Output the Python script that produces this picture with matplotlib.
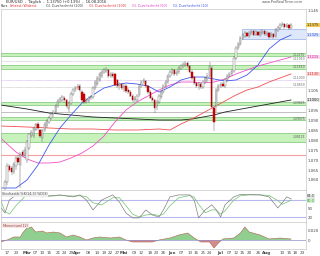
import matplotlib
matplotlib.use("Agg")
import matplotlib.pyplot as plt
import matplotlib.transforms as mtransforms
import numpy as np
from matplotlib.patches import Rectangle

plt.rcParams["font.family"] = "DejaVu Sans"
plt.rcParams["font.size"] = 3.2
plt.rcParams["axes.linewidth"] = 0.4

# daily candles (trading days 16.02. - 16.08.)
open_ = [
    1.0560, 1.0590, 1.0670, 1.0660, 1.0640, 1.0670, 1.0710, 1.0675, 1.0740, 1.0725,
    1.0700, 1.0760, 1.0820, 1.0820, 1.0850, 1.0880, 1.0850, 1.0810, 1.0850, 1.0870,
    1.0890, 1.0910, 1.0930, 1.0940, 1.0970, 1.0995, 1.1000, 1.1010, 1.1000, 1.0955,
    1.0985, 1.1030, 1.1050, 1.1060, 1.1070, 1.1040, 1.1030, 1.0990, 1.0995, 1.1010,
    1.1015, 1.1060, 1.1080, 1.1100, 1.1120, 1.1140, 1.1145, 1.1150, 1.1120, 1.1130,
    1.1130, 1.1100, 1.1070, 1.1080, 1.1060, 1.1070, 1.1050, 1.1040, 1.1020, 1.1000,
    1.1000, 1.1025, 1.1070, 1.1090, 1.1095, 1.1070, 1.1040, 1.1010, 1.1000, 1.0965,
    1.0990, 1.1015, 1.1040, 1.1070, 1.1090, 1.1120, 1.1135, 1.1150, 1.1130, 1.1140,
    1.1160, 1.1170, 1.1175, 1.1185, 1.1170, 1.1140, 1.1115, 1.1085, 1.1070, 1.1080,
    1.1065, 1.1090, 1.1105, 1.1120, 1.1160, 1.0960, 1.0970, 1.1050, 1.1070, 1.1080,
    1.1070, 1.1100, 1.1120, 1.1130, 1.1145, 1.1210, 1.1260, 1.1280, 1.1310, 1.1320,
    1.1335, 1.1320, 1.1335, 1.1345, 1.1330, 1.1340, 1.1325, 1.1335, 1.1345, 1.1330,
    1.1335, 1.1320, 1.1330, 1.1320, 1.1350, 1.1360, 1.1375, 1.1380, 1.1365, 1.1375,
    1.1360,
]
high = [
    1.0600, 1.0685, 1.0680, 1.0670, 1.0690, 1.0720, 1.0725, 1.0740, 1.0750, 1.0765,
    1.0800, 1.0835, 1.0850, 1.0865, 1.0885, 1.0890, 1.0855, 1.0855, 1.0890, 1.0905,
    1.0920, 1.0940, 1.0950, 1.0980, 1.1005, 1.1015, 1.1025, 1.1020, 1.1005, 1.0995,
    1.1040, 1.1060, 1.1070, 1.1080, 1.1080, 1.1050, 1.1040, 1.1010, 1.1020, 1.1025,
    1.1070, 1.1100, 1.1120, 1.1140, 1.1150, 1.1160, 1.1165, 1.1155, 1.1140, 1.1140,
    1.1135, 1.1105, 1.1090, 1.1085, 1.1080, 1.1080, 1.1060, 1.1050, 1.1030, 1.1020,
    1.1030, 1.1080, 1.1100, 1.1110, 1.1100, 1.1075, 1.1050, 1.1020, 1.1005, 1.1000,
    1.1030, 1.1050, 1.1080, 1.1100, 1.1130, 1.1150, 1.1160, 1.1155, 1.1150, 1.1170,
    1.1180, 1.1190, 1.1195, 1.1190, 1.1175, 1.1150, 1.1120, 1.1090, 1.1090, 1.1085,
    1.1100, 1.1120, 1.1135, 1.1190, 1.1170, 1.0970, 1.1060, 1.1080, 1.1090, 1.1090,
    1.1110, 1.1130, 1.1140, 1.1155, 1.1220, 1.1270, 1.1290, 1.1320, 1.1335, 1.1345,
    1.1340, 1.1345, 1.1350, 1.1350, 1.1350, 1.1345, 1.1350, 1.1355, 1.1350, 1.1345,
    1.1340, 1.1340, 1.1335, 1.1360, 1.1370, 1.1385, 1.1390, 1.1385, 1.1385, 1.1380,
    1.1385,
]
low = [
    1.0550, 1.0575, 1.0640, 1.0625, 1.0630, 1.0650, 1.0675, 1.0560, 1.0715, 1.0710,
    1.0685, 1.0750, 1.0810, 1.0810, 1.0845, 1.0850, 1.0810, 1.0790, 1.0840, 1.0860,
    1.0880, 1.0900, 1.0915, 1.0930, 1.0960, 1.0985, 1.0990, 1.0985, 1.0960, 1.0940,
    1.0975, 1.1020, 1.1040, 1.1050, 1.1040, 1.0990, 1.0980, 1.0980, 1.0985, 1.1000,
    1.1005, 1.1050, 1.1070, 1.1090, 1.1110, 1.1130, 1.1135, 1.1110, 1.1110, 1.1110,
    1.1070, 1.1060, 1.1050, 1.1050, 1.1040, 1.1035, 1.1030, 1.1015, 1.0990, 1.0990,
    1.0990, 1.1015, 1.1060, 1.1080, 1.1060, 1.1030, 1.1005, 1.0990, 1.0935, 1.0950,
    1.0980, 1.1005, 1.1030, 1.1060, 1.1080, 1.1110, 1.1125, 1.1120, 1.1120, 1.1130,
    1.1150, 1.1160, 1.1165, 1.1160, 1.1135, 1.1100, 1.1075, 1.1060, 1.1050, 1.1055,
    1.1055, 1.1080, 1.1090, 1.1110, 1.0960, 1.0845, 1.0940, 1.1040, 1.1060, 1.1065,
    1.1060, 1.1090, 1.1110, 1.1120, 1.1135, 1.1200, 1.1250, 1.1270, 1.1300, 1.1310,
    1.1315, 1.1310, 1.1325, 1.1320, 1.1320, 1.1320, 1.1315, 1.1325, 1.1320, 1.1320,
    1.1305, 1.1310, 1.1305, 1.1310, 1.1340, 1.1350, 1.1365, 1.1355, 1.1360, 1.1350,
    1.1355,
]
close = [
    1.0590, 1.0670, 1.0650, 1.0640, 1.0680, 1.0710, 1.0690, 1.0725, 1.0725, 1.0750,
    1.0790, 1.0830, 1.0840, 1.0860, 1.0880, 1.0860, 1.0820, 1.0850, 1.0880, 1.0895,
    1.0910, 1.0930, 1.0940, 1.0970, 1.0995, 1.1005, 1.1015, 1.1000, 1.0970, 1.0985,
    1.1030, 1.1050, 1.1060, 1.1070, 1.1050, 1.1000, 1.0990, 1.1000, 1.1010, 1.1015,
    1.1060, 1.1090, 1.1110, 1.1130, 1.1140, 1.1150, 1.1155, 1.1120, 1.1130, 1.1120,
    1.1075, 1.1070, 1.1080, 1.1060, 1.1070, 1.1045, 1.1040, 1.1020, 1.1000, 1.1010,
    1.1020, 1.1070, 1.1090, 1.1100, 1.1070, 1.1040, 1.1010, 1.1000, 1.0960, 1.0990,
    1.1020, 1.1040, 1.1070, 1.1090, 1.1120, 1.1140, 1.1150, 1.1130, 1.1140, 1.1160,
    1.1170, 1.1180, 1.1185, 1.1170, 1.1140, 1.1110, 1.1085, 1.1070, 1.1080, 1.1065,
    1.1090, 1.1110, 1.1120, 1.1170, 1.0965, 1.0890, 1.1050, 1.1070, 1.1080, 1.1070,
    1.1100, 1.1120, 1.1130, 1.1145, 1.1210, 1.1260, 1.1280, 1.1310, 1.1325, 1.1335,
    1.1320, 1.1335, 1.1345, 1.1325, 1.1340, 1.1325, 1.1340, 1.1345, 1.1330, 1.1335,
    1.1315, 1.1330, 1.1315, 1.1350, 1.1360, 1.1375, 1.1380, 1.1365, 1.1375, 1.1360,
    1.1375,
]

ma_short_idx = [-2, 5, 10, 15, 20, 25, 30, 35, 40, 45, 50, 55, 60, 65,
                70, 75, 80, 85, 90, 95, 100, 105, 110, 115, 120, 125, 130]
ma20 = [1.0560, 1.0560, 1.0600, 1.0675, 1.0775, 1.0860, 1.0925, 1.0985, 1.1025,
        1.1060, 1.1075, 1.1085, 1.1080, 1.1070, 1.1040, 1.1065, 1.1100, 1.1115,
        1.1115, 1.1105, 1.1095, 1.1100, 1.1125, 1.1175, 1.1255, 1.1300, 1.1325]
ma50 = [1.0810, 1.0740, 1.0705, 1.0685, 1.0685, 1.0690, 1.0710, 1.0735, 1.0770,
        1.0820, 1.0890, 1.0950, 1.0990, 1.1020, 1.1050, 1.1075, 1.1090, 1.1090,
        1.1085, 1.1090, 1.1105, 1.1130, 1.1150, 1.1170, 1.1185, 1.1200, 1.1215]
ma100_idx = [-2, 10, 20, 30, 40, 50, 60, 70, 75, 80, 85, 90, 95, 100,
             105, 110, 115, 120, 125, 130]
ma100 = [1.0870, 1.0865, 1.0860, 1.0855, 1.0855, 1.0850, 1.0850, 1.0855, 1.0850,
         1.0880, 1.0905, 1.0935, 1.0965, 1.0995, 1.1025, 1.1050, 1.1065, 1.1090,
         1.1110, 1.1130]
ma200_idx = [-2, 10, 20, 30, 40, 50, 60, 70, 80, 85, 90, 95, 100, 105,
             110, 115, 120, 125, 130]
ma200 = [1.0975, 1.0955, 1.0935, 1.0925, 1.0915, 1.0910, 1.0905, 1.0900, 1.0900,
         1.0905, 1.0915, 1.0925, 1.0940, 1.0950, 1.0960, 1.0970, 1.0980, 1.0990,
         1.1000]

# support / resistance zones and lines
zones = [(1.1220, 1.1235), (1.1155, 1.1175), (1.0975, 1.0990),
         (1.0900, 1.0915), (1.0790, 1.0835)]
zone_labels = ["1.12275", "1.11650", "1.09825", "1.09075", "1.08125"]
dotted_levels = [1.1195, 1.1100, 1.1065]
dotted_colors = ["#a0a0a0", "#c080e0", "#a0a0a0"]
dotted_labels = ["1.11950", "1.11000", "1.10650"]
grey_level = 1.0940
red_level = 1.0725
range_box = (107.6, 1.1305, 1.1355)

# stochastic
stoch_idx = [-2, 0, 2, 5, 9, 13, 17, 21, 25, 28, 31, 34, 37, 40, 44, 49, 52,
             55, 58, 61, 64, 67, 70, 72, 75, 79, 84, 86, 88, 91, 94, 96, 98,
             100, 104, 107, 111, 116, 120, 124, 126, 128, 130]
stoch_k = [55, 34, 80, 98, 100, 98, 91, 95, 98, 94, 91, 98, 80, 45, 80, 98, 73,
           34, 17, 17, 45, 27, 20, 45, 91, 98, 98, 80, 17, 45, 63, 45, 20,
           63, 91, 100, 99, 98, 91, 52, 70, 91, 84]
stoch_d = [80, 40, 30, 60, 92, 98, 95, 94, 96, 95, 94, 95, 92, 70, 63, 88, 88,
           60, 30, 20, 27, 30, 25, 30, 60, 88, 96, 90, 65, 35, 45, 45, 30,
           42, 80, 95, 98, 98, 96, 78, 65, 72, 80]

# momentum
mom_idx = [-2, 1, 4, 7, 8, 10, 12, 14, 17, 19, 22, 25, 28, 31, 34, 37, 40, 43,
           48, 52, 55, 58, 63, 67, 70, 75, 79, 83, 86, 89, 93, 95, 97, 99, 104,
           107, 109, 111, 116, 120, 125, 130]
momentum = [-0.004, 0.000, 0.006, 0.006, 0.014, 0.024, 0.026, 0.016, 0.018,
            0.014, 0.016, 0.014, 0.006, 0.010, 0.006, 0.000, 0.004, 0.006,
            0.004, 0.006, 0.000, -0.004, -0.004, -0.004, 0.000, 0.004, 0.010,
            0.014, 0.004, -0.004, -0.004, -0.016, -0.006, 0.002, 0.004, 0.014,
            0.026, 0.016, 0.010, 0.002, 0.004, 0.002]

# date axis
xtick_pos = [1, 5, 10, 14, 17, 20, 24, 27, 30, 33, 38, 42, 45, 48, 51, 54, 59,
             62, 66, 69, 72, 76, 80, 84, 87, 90, 93, 98, 102, 105, 108, 111,
             115, 119, 126, 129, 132, 135]
xtick_lab = ["17", "23", "Mär", "07", "10", "15", "21", "24", "29", "Apr", "08",
             "14", "19", "22", "27", "Mai", "09", "12", "18", "23", "26", "Jun",
             "07", "13", "16", "21", "24", "Jul", "07", "12", "15", "20", "26",
             "Aug", "10", "15", "18", "23"]
month_labels = {"Mär", "Apr", "Mai", "Jun", "Jul", "Aug"}

legend_texts = ["Kurs", "Unterst./Widerst.", "Gl. Durchschnitt (200)",
                "Gl. Durchschnitt (100)", "Gl. Durchschnitt (50)",
                "Gl. Durchschnitt (20)"]
legend_colors = ["#333333", "#e03030", "#444444", "#e03030", "#e040c0", "#4050e0"]
legend_x = [1, 10, 46, 89, 132, 173]

# ---------------------------------------------------------------------------
FIG_W, FIG_H = 320, 256
X_LEFT, X_RIGHT = 1, 306
XMIN, XMAX = -1.8, 136.8


def box(top, bottom):
    return [X_LEFT / FIG_W, 1 - bottom / FIG_H,
            (X_RIGHT - X_LEFT) / FIG_W, (bottom - top) / FIG_H]


def style(a):
    for s in a.spines.values():
        s.set_color("#b8b8b8")
        s.set_linewidth(0.4)
    a.yaxis.tick_right()
    a.tick_params(axis="y", length=0, pad=1, labelsize=2.9, colors="#444444")
    a.set_xlim(XMIN, XMAX)


fig = plt.figure(figsize=(3.2, 2.56), dpi=100)
fig.patch.set_facecolor("white")

o = np.array(open_)
h = np.array(high)
l = np.array(low)
c = np.array(close)
idx = np.arange(len(c))
up = c >= o

# --- price panel
ax = fig.add_axes(box(9, 190))
style(ax)
ax.set_ylim(1.0550, 1.1455)
ax.set_xticks([])

for lo_, hi_ in zones:
    ax.axhspan(lo_, hi_, fc="#c8f2bc", ec="#5fb85a", lw=0.4, zorder=1)
for lev, col in zip(dotted_levels, dotted_colors):
    ax.axhline(lev, color=col, lw=0.4, ls=(0, (1, 1)), zorder=1)
ax.axhline(grey_level, color="#909090", lw=0.4, zorder=1)
ax.axhline(red_level, color="#f4a0a0", lw=0.8, zorder=1)
ax.add_patch(Rectangle((range_box[0], range_box[1]), XMAX - range_box[0],
                       range_box[2] - range_box[1], fc="#dfe8fb", ec="#7f9bd8",
                       lw=0.4, zorder=1))

ax.plot(ma200_idx, ma200, color="#202020", lw=0.6, zorder=2)
ax.plot(ma100_idx, ma100, color="#f05050", lw=0.6, zorder=2)
ax.plot(ma_short_idx, ma50, color="#f050c8", lw=0.6, zorder=2)
ax.plot(ma_short_idx, ma20, color="#4058f0", lw=0.6, zorder=2)

ax.vlines(idx, l, h, color="#666666", lw=0.35, zorder=3)
ax.bar(idx[up], (c - o)[up], bottom=o[up], width=0.62, color="white",
       edgecolor="#666666", lw=0.3, zorder=4)
ax.bar(idx[~up], (o - c)[~up], bottom=c[~up], width=0.62, color="#e00000",
       edgecolor="#900000", lw=0.3, zorder=4)

value_boxes = [
    (close[-1], "1.1375", "#f2c94c", "#333333"),
    (ma20[-1], "1.1325", "#d8e2fa", "#3050d0"),
    (ma50[-1], "1.1215", "#fbd8f0", "#c02090"),
    (ma100[-1], "1.1130", "#fbd6d6", "#d03030"),
    (ma200[-1], "1.1000", "#e6e6e6", "#222222"),
]

# skip tick labels hidden under the value boxes
yt = np.arange(1.060, 1.1451, 0.005)
box_vals = [v for v, *_ in value_boxes]
ax.set_yticks(yt)
ax.set_yticklabels([
    "" if min(abs(v - b) for b in box_vals) < 0.0035 else f"{v:.3f}"
    for v in yt
])

trans = mtransforms.blended_transform_factory(ax.transAxes, ax.transData)
for (lo_, hi_), lab in zip(zones, zone_labels):
    ax.text(0.997, (lo_ + hi_) / 2, lab, transform=trans, ha="right",
            va="center", fontsize=2.2, color="#555555", zorder=5)
for lev, lab in zip(dotted_levels, dotted_labels):
    ax.text(0.997, lev, lab, transform=trans, ha="right", va="bottom",
            fontsize=2.2, color="#666666", zorder=5)

for val, lab, fc, tc in value_boxes:
    ax.text(1.002, val, lab, transform=trans, ha="left", va="center",
            fontsize=2.6, color=tc, zorder=6, clip_on=False,
            bbox=dict(boxstyle="square,pad=0.12", fc=fc, ec="none"))

# --- stochastic panel
sax = fig.add_axes(box(190, 222))
style(sax)
sax.set_ylim(2.4, 115.3)
sax.set_xticks([])
sax.axhline(80, color="#b8b8ee", lw=0.8)
sax.axhline(20, color="#b8b8ee", lw=0.8)
sax.plot(stoch_idx, stoch_d, color="#70c070", lw=0.5)
sax.plot(stoch_idx, stoch_k, color="#808080", lw=0.5)
sax.set_yticks([20, 50])
sax.set_yticklabels(["20", "50"])
sax.text(0.004, 0.93, "Stochastik %K(14,3) %D(3)", transform=sax.transAxes,
         ha="left", va="top", fontsize=2.4, color="#555555",
         bbox=dict(boxstyle="square,pad=0.15", fc="#eeeeee", ec="none"))
strans = mtransforms.blended_transform_factory(sax.transAxes, sax.transData)
sax.text(1.002, stoch_k[-1] + 9, f"{stoch_k[-1]:.1f}", transform=strans,
         ha="left", va="center", fontsize=2.5, color="#444444", clip_on=False,
         bbox=dict(boxstyle="square,pad=0.1", fc="#e4e4e4", ec="none"))
sax.text(1.002, stoch_d[-1] - 4, f"{stoch_d[-1]:.1f}", transform=strans,
         ha="left", va="center", fontsize=2.5, color="#2a8a2a", clip_on=False,
         bbox=dict(boxstyle="square,pad=0.1", fc="#d8f2d8", ec="none"))

# --- momentum panel
max_ = fig.add_axes(box(222, 249))
style(max_)
max_.set_ylim(-0.018, 0.036)
m = np.array(momentum)
max_.fill_between(mom_idx, 0, m, where=m >= 0, interpolate=True,
                  color="#6cbf6c", alpha=0.75, lw=0)
max_.fill_between(mom_idx, 0, m, where=m <= 0, interpolate=True,
                  color="#c97070", alpha=0.8, lw=0)
max_.plot(mom_idx, momentum, color="#b06050", lw=0.4)
max_.axhline(0, color="#9090c8", lw=0.5)
max_.set_yticks([0, 0.02])
max_.set_yticklabels(["0", "0.020"])
max_.text(0.004, 0.93, "Momentum(12)", transform=max_.transAxes, ha="left",
          va="top", fontsize=2.4, color="#a04040",
          bbox=dict(boxstyle="square,pad=0.15", fc="#f6e6e6", ec="none"))
max_.set_xticks(xtick_pos)
max_.set_xticklabels(xtick_lab)
max_.tick_params(axis="x", length=0, pad=1.2, labelsize=3.0, colors="#444444")
for t in max_.get_xticklabels():
    if t.get_text() in month_labels:
        t.set_fontweight("bold")

# --- header
fig.text(0.02, 0.991, "EUR/USD  -  Täglich  -  1.13750 (+0.13%)  -  16.08.2016",
         ha="left", va="center", fontsize=2.6, color="#222222")
for txt, col, xp in zip(legend_texts, legend_colors, legend_x):
    fig.text(xp / FIG_W, 0.975, txt, ha="left", va="center", fontsize=2.4,
             color=col)
fig.text(303 / FIG_W, 0.991, "www.ProRealTime.com", ha="right", va="center",
         fontsize=2.6, color="#555555")

fig.savefig("out.png", dpi=100)
